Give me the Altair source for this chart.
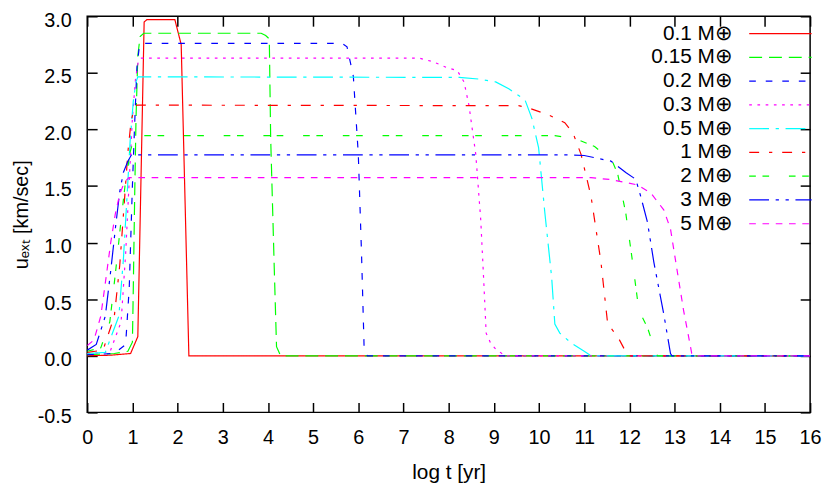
import altair as alt
import pandas as pd

# ---------------- data ----------------
series = ["0.1 M⊕", "0.15 M⊕", "0.2 M⊕", "0.3 M⊕", "0.5 M⊕",
          "1 M⊕", "2 M⊕", "3 M⊕", "5 M⊕"]
colors = ["#ff0000", "#00ff00", "#0000ff", "#ff00ff", "#00ffff",
          "#ff0000", "#00ff00", "#0000ff", "#ff00ff"]
dashes = [[1, 0], [13, 7], [6.7, 10], [2.7, 5.6], [20, 6.7, 3.3, 6.7],
          [10, 10, 3.3, 10], [6.7, 6.7, 6.7, 20], [20, 6.7, 3.3, 6.7, 3.3, 6.7],
          [6.7, 6.7]]

x_01 = [0, 0.5, 0.96, 1.12, 1.26, 1.32, 1.5, 1.94, 2.08, 2.25, 16]
y_01 = [0, 0.005, 0.02, 0.17, 2.95, 2.97, 2.97, 2.97, 2.75, 0, 0]

x_015 = [0, 0.6, 0.9, 1.0, 1.02, 1.05, 1.08, 1.12, 1.17, 1.25, 3.85, 3.95, 4.03, 4.06, 4.14, 4.19, 4.28, 16]
y_015 = [0.01, 0.02, 0.04, 0.12, 0.6, 1.4, 2.1, 2.65, 2.82, 2.85, 2.85, 2.83, 2.80, 1.93, 0.77, 0.08, 0, 0]

x_02 = [0, 0.6, 0.85, 0.93, 1.0, 1.05, 1.1, 1.15, 1.2, 5.64, 5.75, 5.89, 6.0, 6.07, 6.13, 6.2, 16]
y_02 = [0.01, 0.02, 0.1, 0.6, 1.5, 2.05, 2.55, 2.72, 2.76, 2.76, 2.73, 2.47, 1.78, 0.92, 0.05, 0, 0]

x_03 = [0, 0.5, 0.75, 0.85, 0.93, 1.0, 1.07, 1.13, 1.18, 7.35, 7.64, 7.94, 8.19, 8.34, 8.45, 8.6, 8.71, 8.78, 8.83, 8.93, 9.04, 9.25, 16]
y_03 = [0.02, 0.03, 0.3, 0.9, 1.55, 2.1, 2.45, 2.6, 2.63, 2.63, 2.60, 2.55, 2.52, 2.42, 2.21, 1.78, 1.2, 0.63, 0.2, 0.11, 0.06, 0, 0]

x_05 = [0, 0.4, 0.7, 0.8, 0.88, 0.95, 1.02, 1.08, 1.12, 8.23, 8.67, 9.04, 9.33, 9.69, 9.84, 9.99, 10.13, 10.28, 10.35, 10.46, 10.72, 11.0, 11.15, 16]
y_05 = [0.02, 0.03, 0.35, 0.85, 1.4, 1.9, 2.25, 2.42, 2.465, 2.46, 2.445, 2.42, 2.36, 2.26, 2.10, 1.84, 1.26, 0.69, 0.28, 0.20, 0.11, 0.04, 0, 0]

x_1 = [0, 0.35, 0.6, 0.72, 0.82, 0.9, 0.97, 1.03, 1.1, 9.55, 9.77, 10.2, 10.57, 10.75, 10.93, 11.15, 11.37, 11.52, 11.74, 11.94, 11.98, 16]
y_1 = [0.03, 0.05, 0.35, 0.8, 1.35, 1.8, 2.07, 2.17, 2.215, 2.21, 2.19, 2.13, 2.06, 1.97, 1.78, 1.41, 0.83, 0.28, 0.17, 0.02, 0, 0]

x_2 = [0, 0.3, 0.5, 0.63, 0.75, 0.85, 0.95, 1.03, 1.1, 10.35, 10.86, 11.23, 11.62, 11.74, 11.92, 12.07, 12.21, 12.4, 12.54, 12.62, 16]
y_2 = [0.04, 0.07, 0.3, 0.75, 1.2, 1.55, 1.8, 1.92, 1.946, 1.946, 1.91, 1.85, 1.72, 1.61, 1.26, 0.83, 0.40, 0.25, 0.08, 0, 0]

x_3 = [0, 0.2, 0.4, 0.52, 0.63, 0.72, 0.8, 0.9, 0.98, 10.57, 11.0, 11.59, 11.92, 12.14, 12.25, 12.4, 12.54, 12.76, 12.91, 12.94, 16]
y_3 = [0.05, 0.1, 0.35, 0.75, 1.15, 1.45, 1.62, 1.72, 1.776, 1.776, 1.77, 1.72, 1.62, 1.56, 1.41, 1.18, 0.83, 0.37, 0.02, 0, 0]

x_5 = [0, 0.15, 0.3, 0.42, 0.52, 0.62, 0.72, 0.82, 0.92, 11.15, 11.59, 12.18, 12.47, 12.76, 12.91, 13.05, 13.2, 13.31, 13.38, 13.42, 16]
y_5 = [0.09, 0.14, 0.35, 0.7, 1.0, 1.25, 1.43, 1.53, 1.574, 1.574, 1.557, 1.51, 1.44, 1.29, 1.12, 0.77, 0.40, 0.17, 0.02, 0, 0]

x_ticks = list(range(0, 17))
y_ticks = [-0.5, 0.0, 0.5, 1.0, 1.5, 2.0, 2.5, 3.0]

xs = [x_01, x_015, x_02, x_03, x_05, x_1, x_2, x_3, x_5]
ys = [y_01, y_015, y_02, y_03, y_05, y_1, y_2, y_3, y_5]

rows = []
for name, xx, yy in zip(series, xs, ys):
    for i, (a, b) in enumerate(zip(xx, yy)):
        rows.append({"series": name, "x": a, "y": b, "i": i})
df = pd.DataFrame(rows)

# ---------------- styling ----------------
W, H = 730, 400
FONT = "Liberation Sans"

xscale = alt.Scale(domain=[0, 16], nice=False, zero=False)
yscale = alt.Scale(domain=[-0.5, 3.0], nice=False, zero=False)

ax_bottom = alt.Axis(orient="bottom", values=x_ticks, format="d", ticks=False, domain=False,
                     grid=False, labelFontSize=20, labelPadding=15, labelFont=FONT,
                     labelColor="black", title="log t [yr]", titleFont=FONT,
                     titleFontSize=21, titleFontWeight="normal", titleColor="black",
                     titlePadding=15, labelFlush=False)
ax_left = alt.Axis(orient="left", values=y_ticks, ticks=False, domain=False, grid=False,
                   labelFontSize=20, labelPadding=16, labelOffset=4, labelFont=FONT,
                   labelColor="black",
                   labelExpr="datum.value < 0 ? '-' + format(-datum.value, '.1f') : format(datum.value, '.1f')",
                   title="uₑₓₜ [km/sec]", titleFont=FONT, titleFontSize=20,
                   titleFontWeight="normal", titleColor="black", titlePadding=6,
                   labelFlush=False)

tick_common = dict(labels=False, domain=False, grid=False, ticks=True, tickSize=10,
                   tickWidth=1.5, tickColor="black", title=None)
ax_x_in_bottom = alt.Axis(orient="top", offset=-H, values=x_ticks, **tick_common)
ax_x_in_top = alt.Axis(orient="bottom", offset=-H, values=x_ticks, **tick_common)
ax_y_in_left = alt.Axis(orient="right", offset=-W, values=y_ticks, **tick_common)
ax_y_in_right = alt.Axis(orient="left", offset=-W, values=y_ticks, **tick_common)

legend = alt.Legend(orient="none", legendX=631, legendY=7, title=None,
                    labelAlign="right", labelOffset=0, symbolType="M3.375,0H11.25",
                    symbolSize=256, symbolStrokeWidth=1.2, labelFontSize=21,
                    labelFont=FONT, labelColor="black", rowPadding=2, padding=0,
                    labelLimit=300)

lines = alt.Chart(df).mark_line(strokeWidth=1.2, clip=True).encode(
    x=alt.X("x:Q", scale=xscale, axis=ax_bottom),
    y=alt.Y("y:Q", scale=yscale, axis=ax_left),
    color=alt.Color("series:N", scale=alt.Scale(domain=series, range=colors),
                    sort=series, legend=legend),
    strokeDash=alt.StrokeDash("series:N", scale=alt.Scale(domain=series, range=dashes),
                              sort=series, legend=legend),
    order=alt.Order("i:Q"),
)

ticks_a = alt.Chart(df).mark_line(opacity=0).encode(
    x=alt.X("x:Q", scale=xscale, axis=ax_x_in_bottom),
    y=alt.Y("y:Q", scale=yscale, axis=ax_y_in_left),
    detail="series:N",
    order=alt.Order("i:Q"),
)
ticks_b = alt.Chart(df).mark_line(opacity=0).encode(
    x=alt.X("x:Q", scale=xscale, axis=ax_x_in_top),
    y=alt.Y("y:Q", scale=yscale, axis=ax_y_in_right),
    detail="series:N",
    order=alt.Order("i:Q"),
)

chart = alt.layer(lines, ticks_a, ticks_b).resolve_axis(
    x="independent", y="independent"
).properties(
    width=W, height=H,
    autosize=alt.AutoSizeParams(type="none"),
    padding={"left": 80, "top": 6, "right": 12, "bottom": 73},
    background="white",
).configure_view(stroke="black", strokeWidth=1.5)

chart.save("out.html", embed_options={"renderer": "svg", "actions": False})
